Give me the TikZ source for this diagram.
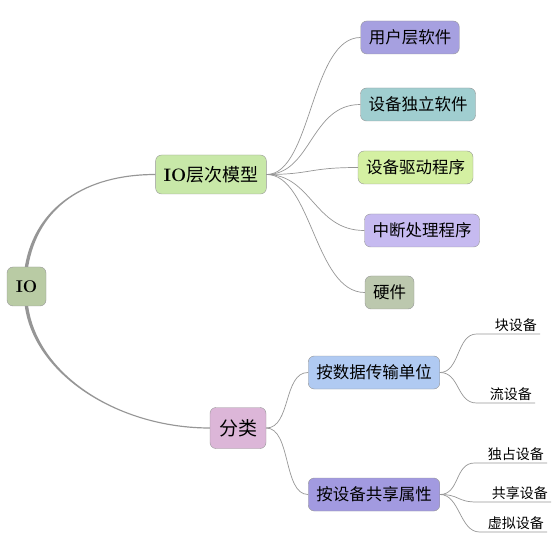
\documentclass[tikz,border=0pt]{standalone}
\usepackage{fontspec}
\newfontfamily\cjk{Noto Sans CJK SC}
\definecolor{ioCol}{RGB}{185,203,164}
\definecolor{hierCol}{RGB}{200,232,168}
\definecolor{clsCol}{RGB}{220,182,216}
\definecolor{userCol}{RGB}{166,160,224}
\definecolor{indepCol}{RGB}{160,206,208}
\definecolor{driverCol}{RGB}{212,240,162}
\definecolor{intrCol}{RGB}{198,186,240}
\definecolor{hwCol}{RGB}{188,200,174}
\definecolor{dataCol}{RGB}{176,202,242}
\definecolor{shareCol}{RGB}{162,154,224}
\definecolor{lineCol}{RGB}{150,150,150}
\tikzset{
  topic/.style={draw=lineCol, rounded corners=6pt, minimum height=33pt,
    inner xsep=8pt, inner ysep=0pt, font=\fontsize{16.5}{18}\selectfont\cjk},
  leaf/.style={anchor=south east, inner xsep=3pt, inner ysep=2pt, align=right,
    font=\fontsize{14}{16}\selectfont\cjk},
  trunk/.style={fill=lineCol},
  twig/.style={draw=lineCol, line width=0.7pt}
}
\begin{document}
\begin{tikzpicture}[x=1pt, y=1pt]
  \useasboundingbox (0,0) rectangle (555,542);

  % root and main topics
  \node[topic, fill=ioCol, minimum height=39pt, minimum width=39pt, inner xsep=7pt,
        font=\fontsize{17}{19}\selectfont\bfseries] (io) at (26.5,255.5) {IO};
  \node[topic, fill=hierCol, minimum height=39pt, inner xsep=8pt,
        font=\fontsize{18}{20}\selectfont] (hier) at (211,367.5) {\textbf{IO}\cjk 层次模型};
  \node[topic, fill=clsCol, minimum height=41pt, inner xsep=9pt,
        font=\fontsize{19}{21}\selectfont\cjk] (cls) at (238,114) {分类};

  % layers
  \node[topic, fill=userCol] (user) at (410,504.5) {用户层软件};
  \node[topic, fill=indepCol] (indep) at (418,437.5) {设备独立软件};
  \node[topic, fill=driverCol] (driver) at (415.5,374.5) {设备驱动程序};
  \node[topic, fill=intrCol] (intr) at (422,311.5) {中断处理程序};
  \node[topic, fill=hwCol] (hw) at (389.5,249.5) {硬件};

  % classes
  \node[topic, fill=dataCol] (bydata) at (374,169.5) {按数据传输单位};
  \node[topic, fill=shareCol] (byshare) at (374,47.5) {按设备共享属性};

  % leaves
  \node[leaf, text width=57pt] (blk) at (540,208) {块设备};
  \node[leaf, text width=52pt] (strm) at (535,139) {流设备};
  \node[leaf, text width=66pt] (excl) at (547,79) {独占设备};
  \node[leaf, text width=68pt] (shr) at (551,40) {共享设备};
  \node[leaf, text width=61pt] (virt) at (547,10) {虚拟设备};

  % main branches, thick at the root
  \fill[trunk] ([xshift=-1.7pt]io.north) .. controls +(10,60) and +(-70,0) .. ([yshift=0.6pt]hier.west)
    -- ([yshift=-0.6pt]hier.west) .. controls +(-70,0) and +(10,60) .. ([xshift=1.7pt]io.north) -- cycle;
  \fill[trunk] ([xshift=-1.7pt]io.south) .. controls +(10,-70) and +(-90,0) .. ([yshift=-0.6pt]cls.west)
    -- ([yshift=0.6pt]cls.west) .. controls +(-90,0) and +(10,-70) .. ([xshift=1.7pt]io.south) -- cycle;

  % sub branches
  \foreach \t in {user, indep, driver, intr, hw}
    \draw[twig] (hier.east) .. controls +(45,0) and +(-50,0) .. (\t.west);
  \foreach \t in {bydata, byshare}
    \draw[twig] (cls.east) .. controls +(25,0) and +(-25,0) .. (\t.west);
  \foreach \t in {blk, strm}
    \draw[twig] (bydata.east) .. controls +(20,0) and +(-20,0) .. (\t.south west) -- (\t.south east);
  \foreach \t in {excl, shr, virt}
    \draw[twig] (byshare.east) .. controls +(20,0) and +(-20,0) .. (\t.south west) -- (\t.south east);
\end{tikzpicture}
\end{document}
